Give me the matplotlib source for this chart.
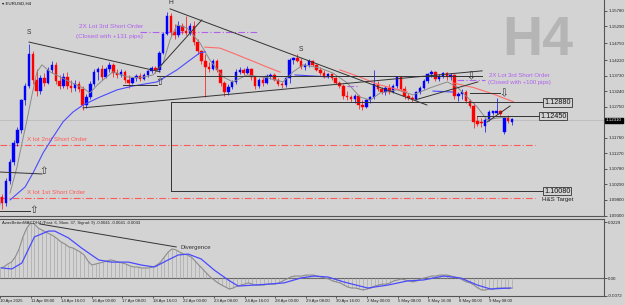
import matplotlib
matplotlib.use('Agg')
import matplotlib.pyplot as plt
import numpy as np

plt.rcParams['font.family'] = ['Liberation Sans', 'DejaVu Sans']

BG = '#d3d3d3'
BULL = '#0000ff'
BEAR = '#ff0000'
LINE = '#333333'
ORDER_RED = '#ff5a5a'
PURPLE = '#b060ee'

# EURUSD H4 candles (bar 0 = 10 Apr 2025 00:00)
opens = [1.0965, 1.0990, 1.0970, 1.1040, 1.1100, 1.1160, 1.1200, 1.1295, 1.1340, 1.1440,
         1.1360, 1.1325, 1.1365, 1.1350, 1.1390, 1.1405, 1.1355, 1.1340, 1.1370, 1.1340,
         1.1335, 1.1345, 1.1330, 1.1280, 1.1305, 1.1345, 1.1385, 1.1395, 1.1370, 1.1395,
         1.1408, 1.1380, 1.1375, 1.1385, 1.1360, 1.1350, 1.1365, 1.1372, 1.1362, 1.1375,
         1.1388, 1.1398, 1.1390, 1.1445, 1.1505, 1.1560, 1.1510, 1.1500, 1.1530, 1.1515,
         1.1508, 1.1530, 1.1480, 1.1450, 1.1420, 1.1400, 1.1395, 1.1418, 1.1390, 1.1350,
         1.1320, 1.1338, 1.1352, 1.1385, 1.1392, 1.1382, 1.1395, 1.1368, 1.1340, 1.1360,
         1.1350, 1.1372, 1.1376, 1.1360, 1.1345, 1.1342, 1.1365, 1.1422, 1.1428, 1.1420,
         1.1400, 1.1408, 1.1418, 1.1405, 1.1392, 1.1382, 1.1370, 1.1378, 1.1365, 1.1350,
         1.1340, 1.1310, 1.1305, 1.1298, 1.1308, 1.1280, 1.1275, 1.1295, 1.1305, 1.1345,
         1.1330, 1.1320, 1.1335, 1.1322, 1.1340, 1.1368, 1.1332, 1.1308, 1.1302, 1.1298,
         1.1320, 1.1335, 1.1355, 1.1378, 1.1385, 1.1362, 1.1372, 1.1380, 1.1368, 1.1375,
         1.1310, 1.1315, 1.1322, 1.1292, 1.1278, 1.1228, 1.1226, 1.1215, 1.1232, 1.1254,
         1.1256, 1.1262, 1.1195, 1.1240, 1.1225]
highs = [1.0995, 1.1000, 1.1050, 1.1110, 1.1170, 1.1210, 1.1300, 1.1350, 1.1473, 1.1450,
         1.1395, 1.1375, 1.1380, 1.1400, 1.1420, 1.1415, 1.1375, 1.1380, 1.1385, 1.1360,
         1.1360, 1.1355, 1.1340, 1.1315, 1.1355, 1.1395, 1.1400, 1.1405, 1.1400, 1.1415,
         1.1412, 1.1395, 1.1395, 1.1390, 1.1375, 1.1370, 1.1378, 1.1380, 1.1380, 1.1392,
         1.1402, 1.1402, 1.1450, 1.1510, 1.1573, 1.1572, 1.1535, 1.1545, 1.1540, 1.1560,
         1.1540, 1.1545, 1.1490, 1.1455, 1.1440, 1.1415, 1.1425, 1.1425, 1.1395, 1.1355,
         1.1345, 1.1360, 1.1395, 1.1400, 1.1398, 1.1402, 1.1398, 1.1372, 1.1365, 1.1368,
         1.1378, 1.1380, 1.1380, 1.1365, 1.1352, 1.1370, 1.1430, 1.1432, 1.1440, 1.1428,
         1.1412, 1.1425, 1.1422, 1.1410, 1.1400, 1.1390, 1.1382, 1.1382, 1.1370, 1.1355,
         1.1345, 1.1325, 1.1312, 1.1315, 1.1312, 1.1295, 1.1300, 1.1310, 1.1390, 1.1355,
         1.1338, 1.1340, 1.1345, 1.1345, 1.1372, 1.1372, 1.1340, 1.1318, 1.1310, 1.1325,
         1.1340, 1.1362, 1.1382, 1.1392, 1.1388, 1.1378, 1.1385, 1.1385, 1.1380, 1.1378,
         1.1320, 1.1330, 1.1328, 1.1298, 1.1285, 1.1245, 1.1240, 1.1240, 1.1265, 1.1262,
         1.1302, 1.1265, 1.1245, 1.1248, 1.1240]
lows = [1.0950, 1.0952, 1.0960, 1.1030, 1.1090, 1.1150, 1.1190, 1.1280, 1.1335, 1.1345,
        1.1310, 1.1315, 1.1340, 1.1345, 1.1380, 1.1345, 1.1330, 1.1335, 1.1330, 1.1320,
        1.1325, 1.1320, 1.1265, 1.1270, 1.1300, 1.1340, 1.1360, 1.1360, 1.1365, 1.1385,
        1.1370, 1.1365, 1.1370, 1.1350, 1.1335, 1.1345, 1.1355, 1.1355, 1.1358, 1.1370,
        1.1380, 1.1380, 1.1385, 1.1440, 1.1500, 1.1500, 1.1490, 1.1495, 1.1505, 1.1500,
        1.1500, 1.1470, 1.1440, 1.1410, 1.1305, 1.1385, 1.1390, 1.1385, 1.1340, 1.1310,
        1.1312, 1.1330, 1.1345, 1.1378, 1.1375, 1.1378, 1.1360, 1.1330, 1.1335, 1.1340,
        1.1345, 1.1362, 1.1355, 1.1340, 1.1335, 1.1338, 1.1350, 1.1410, 1.1415, 1.1395,
        1.1390, 1.1400, 1.1402, 1.1388, 1.1375, 1.1365, 1.1365, 1.1360, 1.1345, 1.1335,
        1.1300, 1.1295, 1.1290, 1.1285, 1.1268, 1.1265, 1.1270, 1.1285, 1.1300, 1.1325,
        1.1315, 1.1312, 1.1315, 1.1318, 1.1335, 1.1325, 1.1300, 1.1295, 1.1290, 1.1295,
        1.1315, 1.1330, 1.1350, 1.1370, 1.1355, 1.1355, 1.1365, 1.1360, 1.1358, 1.1300,
        1.1292, 1.1300, 1.1285, 1.1272, 1.1208, 1.1215, 1.1212, 1.1195, 1.1228, 1.1248,
        1.1250, 1.1245, 1.1188, 1.1222, 1.1218]
closes = [1.0990, 1.0970, 1.1040, 1.1100, 1.1160, 1.1200, 1.1295, 1.1340, 1.1440, 1.1360,
          1.1325, 1.1365, 1.1350, 1.1390, 1.1405, 1.1355, 1.1340, 1.1370, 1.1340, 1.1335,
          1.1345, 1.1330, 1.1280, 1.1305, 1.1345, 1.1385, 1.1395, 1.1370, 1.1395, 1.1408,
          1.1380, 1.1375, 1.1385, 1.1360, 1.1350, 1.1365, 1.1372, 1.1362, 1.1375, 1.1388,
          1.1398, 1.1390, 1.1445, 1.1505, 1.1560, 1.1510, 1.1500, 1.1530, 1.1515, 1.1508,
          1.1530, 1.1480, 1.1450, 1.1420, 1.1400, 1.1395, 1.1418, 1.1390, 1.1350, 1.1320,
          1.1338, 1.1352, 1.1385, 1.1392, 1.1382, 1.1395, 1.1368, 1.1340, 1.1360, 1.1350,
          1.1372, 1.1376, 1.1360, 1.1345, 1.1342, 1.1365, 1.1422, 1.1428, 1.1420, 1.1400,
          1.1408, 1.1418, 1.1405, 1.1392, 1.1382, 1.1370, 1.1378, 1.1365, 1.1350, 1.1340,
          1.1310, 1.1305, 1.1298, 1.1308, 1.1280, 1.1275, 1.1295, 1.1305, 1.1345, 1.1330,
          1.1320, 1.1335, 1.1322, 1.1340, 1.1368, 1.1332, 1.1308, 1.1302, 1.1298, 1.1320,
          1.1335, 1.1355, 1.1378, 1.1385, 1.1362, 1.1372, 1.1380, 1.1368, 1.1375, 1.1310,
          1.1315, 1.1322, 1.1292, 1.1278, 1.1225, 1.1220, 1.1222, 1.1232, 1.1258, 1.1260,
          1.1262, 1.1250, 1.1240, 1.1228, 1.1235]

date_labels = ['10 Apr 2025', '11 Apr 08:00', '14 Apr 16:00', '16 Apr 00:00', '17 Apr 08:00',
               '18 Apr 16:00', '22 Apr 00:00', '23 Apr 08:00', '24 Apr 16:00', '28 Apr 00:00',
               '29 Apr 08:00', '30 Apr 16:00', '2 May 00:00', '5 May 08:00', '6 May 16:00',
               '8 May 00:00', '9 May 08:00']
price_ticks = [1.15780, 1.15290, 1.14750, 1.14220, 1.13730, 1.13240, 1.12750,
               1.11760, 1.11270, 1.10780, 1.10290, 1.09800, 1.09300]
last_price = 1.12310

# moving averages (bar position, price)
gray_ma_bar = [3.05, 4.88, 6.18, 7.49, 8.79, 10.1, 11.4, 13.5, 16.1, 18.7, 22.1, 23.9, 25.8,
               27.3, 29.9, 33.6, 37.0, 40.4, 43.0, 44.8, 46.6, 49.2, 52.6, 55.2, 58.6, 61.2,
               64.9, 70.1, 74.3, 76.9, 79.5, 83.9, 87.3, 91.0, 94.4, 97.0, 99.6, 104.0, 108.2,
               112.6, 117.1, 119.7, 122.3, 124.9, 127.5, 130.1, 133.5]
gray_ma_price = [1.1002, 1.1084, 1.1160, 1.1233, 1.1312, 1.1385, 1.1407, 1.1385, 1.1369,
                 1.1353, 1.1334, 1.1318, 1.1343, 1.1359, 1.1385, 1.1369, 1.1366, 1.1375,
                 1.1413, 1.1486, 1.1533, 1.1524, 1.1476, 1.1422, 1.1369, 1.1353, 1.1375,
                 1.1366, 1.1353, 1.1385, 1.1407, 1.1397, 1.1381, 1.1350, 1.1305, 1.1296,
                 1.1318, 1.1328, 1.1312, 1.1334, 1.1353, 1.1337, 1.1305, 1.1274, 1.1233,
                 1.1239, 1.1242]
blue_ma = [
    [(3.1, 1.0980), (7.0, 1.1021), (9.05, 1.1065), (11.7, 1.1129), (14.3, 1.1179),
     (16.9, 1.1227), (19.5, 1.1258), (22.1, 1.1280), (26.5, 1.1305), (31.0, 1.1328),
     (35.1, 1.1340), (41.4, 1.1353), (46.6, 1.1391), (50.0, 1.1422), (52.6, 1.1445),
     (54.0, 1.1448)],
    [(77.4, 1.1375), (86.0, 1.1369)],
    [(113.4, 1.1324), (118.6, 1.1321)],
]
red_ma = [
    [(53.9, 1.1463), (57.8, 1.1460), (61.2, 1.1444), (65.7, 1.1422), (70.1, 1.1400),
     (73.5, 1.1384)],
    [(89.1, 1.1391), (94.0, 1.1370), (99.0, 1.1345), (106.6, 1.1322)],
    [(118.6, 1.1350), (124.0, 1.1335), (129.0, 1.1315), (134.4, 1.1290)],
]

# trend lines and levels (bar, price) pairs
trend_lines = [
    ((8.0, 1.1479), (42.2, 1.1385)),     # left shoulder down line
    ((41.4, 1.1391), (53.1, 1.1549)),
    ((44.8, 1.1584), (111.8, 1.1280)),   # head down line
    ((22.1, 1.1271), (126.2, 1.1388)),   # neckline
    ((108.7, 1.1296), (125.1, 1.1353)),
    ((127.5, 1.1226), (133.5, 1.1277)),
    ((0.44, 1.1068), (11.4, 1.1062)),
    ((0.44, 1.0945), (8.3, 1.0945)),
    ((32.5, 1.1343), (41.4, 1.1343)),
    ((41.4, 1.1373), (126.2, 1.1373)),
    ((123.1, 1.1318), (130.9, 1.1318)),
    ((124.9, 1.1245), (141.3, 1.1245)),
    ((45.1, 1.1288), (142.1, 1.1288)),
    ((45.1, 1.1008), (142.1, 1.1008)),
    ((45.1, 1.1288), (45.1, 1.1008)),
]
short_orders = [1.1154, 1.0985]
purple_levels = [((37.0, 67.5), 1.1511), ((91.0, 93.6), 1.1340), ((119.7, 127.0), 1.1359)]
up_arrows = [(11.9, 1.1072), (9.1, 1.0948), (42.2, 1.1353)]
down_arrows = [(123.1, 1.1372), (131.9, 1.1318)]
level_boxes = [(142.4, 1.1288, '1.12880'), (141.3, 1.1245, '1.12450'), (142.4, 1.1008, '1.10080')]

# MACD panel
macd = [0.0041, 0.0045, 0.0057, 0.0065, 0.0086, 0.0119, 0.0168, 0.0204, 0.0225, 0.0221,
        0.0204, 0.0196, 0.0188, 0.0180, 0.0172, 0.0160, 0.0147, 0.0139, 0.0127, 0.0123,
        0.0115, 0.0106, 0.0094, 0.0070, 0.0053, 0.0057, 0.0061, 0.0065, 0.0070, 0.0074,
        0.0070, 0.0065, 0.0061, 0.0057, 0.0049, 0.0045, 0.0045, 0.0041, 0.0041, 0.0041,
        0.0045, 0.0053, 0.0065, 0.0086, 0.0106, 0.0119, 0.0115, 0.0106, 0.0098, 0.0094,
        0.0086, 0.0070, 0.0053, 0.0037, 0.0020, 0.0004, -0.0008, -0.0020, -0.0029, -0.0037,
        -0.0045, -0.0041, -0.0033, -0.0029, -0.0025, -0.0020, -0.0025, -0.0029, -0.0029, -0.0029,
        -0.0025, -0.0025, -0.0025, -0.0020, -0.0012, -0.0004, 0.0004, 0.0008, 0.0008, 0.0008,
        0.0012, 0.0012, 0.0012, 0.0008, 0.0004, 0.0000, -0.0004, -0.0012, -0.0016, -0.0020,
        -0.0029, -0.0037, -0.0041, -0.0041, -0.0045, -0.0049, -0.0045, -0.0041, -0.0033, -0.0029,
        -0.0025, -0.0025, -0.0020, -0.0012, -0.0008, -0.0004, -0.0008, -0.0012, -0.0016, -0.0012,
        -0.0004, 0.0000, 0.0004, 0.0008, 0.0008, 0.0012, 0.0012, 0.0012, 0.0008, 0.0004,
        0.0000, -0.0008, -0.0016, -0.0020, -0.0029, -0.0041, -0.0049, -0.0049, -0.0045, -0.0045,
        -0.0041, -0.0041, -0.0041, -0.0043, -0.0041]
signal_bar = [0.44, 3.1, 5.7, 9.0, 12.7, 14.3, 17.9, 21.3, 25.8, 29.1, 33.6, 37.0, 40.4, 44.0,
              46.6, 49.2, 52.6, 56.0, 59.7, 62.3, 66.4, 70.1, 74.3, 78.7, 82.1, 85.8, 89.9,
              96.2, 101.4, 106.6, 110.8, 116.0, 120.5, 124.9, 128.3, 133.5]
signal_val = [0.0041, 0.0037, 0.0061, 0.0168, 0.0192, 0.0192, 0.0164, 0.0123, 0.0074, 0.0065,
              0.0065, 0.0053, 0.0045, 0.0074, 0.0094, 0.0098, 0.0078, 0.0033, -0.0008, -0.0033,
              -0.0029, -0.0025, -0.0020, 0.0000, 0.0008, 0.0004, -0.0016, -0.0041, -0.0029,
              -0.0012, -0.0008, 0.0008, 0.0000, -0.0029, -0.0045, -0.0041]
divergence = ((10.4, 0.0221), (46.1, 0.0127))

fig = plt.figure(figsize=(6.25, 3.05), dpi=100, facecolor=BG)
ax = fig.add_axes([0, 89 / 305, 604 / 625, 216 / 305], facecolor=BG)
ax2 = fig.add_axes([0, 9 / 305, 604 / 625, 77 / 305], facecolor=BG)

x = np.arange(len(closes))
o = np.array(opens)
c = np.array(closes)
colors = [BULL if cc >= oo else BEAR for oo, cc in zip(o, c)]
bottoms = np.minimum(o, c)
heights = np.maximum(np.abs(c - o), 0.00012)

ax.axhline(last_price, color='#bcbcbc', lw=0.6, zorder=1)
ax.text(140.8, 1.1482, 'H4', fontsize=40, fontweight='bold', color='#b5b5b5',
        ha='center', va='center', zorder=0)

ax.vlines(x, lows, highs, colors=colors, lw=0.6, alpha=0.8, zorder=3)
ax.bar(x, heights, 0.62, bottom=bottoms, color=colors, edgecolor=colors, lw=0.3, zorder=4)

ax.plot(gray_ma_bar, gray_ma_price, color='#8a8a8a', lw=0.7, zorder=5)
for seg in blue_ma:
    bx, by = zip(*seg)
    ax.plot(bx, by, color='#4a4aff', lw=0.8, zorder=5)
for seg in red_ma:
    rx, ry = zip(*seg)
    ax.plot(rx, ry, color='#ff6a6a', lw=0.8, zorder=5)

for (x0, y0), (x1, y1) in trend_lines:
    ax.plot([x0, x1], [y0, y1], color=LINE, lw=0.7, zorder=6)

for lvl in short_orders:
    ax.plot([0.44, 140.0], [lvl, lvl], color=ORDER_RED, lw=0.8, ls=(0, (6, 2, 1, 2)), zorder=2)
for (xa, xb), lvl in purple_levels:
    ax.plot([xa, xb], [lvl, lvl], color=PURPLE, lw=0.8, ls=(0, (6, 2, 1, 2)), zorder=2)

ax.text(7.5, 1.1170, 'X lot 2nd Short Order', color=ORDER_RED, fontsize=4.6, va='center')
ax.text(7.5, 1.1002, 'X lot 1st Short Order', color=ORDER_RED, fontsize=4.6, va='center')
ax.text(29.4, 1.1527, '2X Lot 3rd Short Order', color=PURPLE, fontsize=4.6, ha='center', va='center')
ax.text(29.0, 1.1498, '(Closed with +131 pips)', color=PURPLE, fontsize=4.6, ha='center', va='center')
ax.text(136.0, 1.1372, '2X Lot 3rd Short Order', color=PURPLE, fontsize=4.3, ha='center', va='center')
ax.text(136.0, 1.1350, '(Closed with +100 pips)', color=PURPLE, fontsize=4.3, ha='center', va='center')
ax.text(141.8, 1.0980, 'H&S Target', color='#222222', fontsize=4.4, va='center')

for lx, lp, txt in level_boxes:
    ax.text(lx, lp, txt, fontsize=5.2, color='#111111', ha='left', va='center', zorder=7,
            bbox=dict(boxstyle='square,pad=0.12', fc=BG, ec='#333333', lw=0.6))

for lx, lp, txt in [(8.0, 1.1508, 'S'), (45.1, 1.1603, 'H'), (79.0, 1.1457, 'S')]:
    ax.text(lx, lp, txt, fontsize=4.8, color='#333333', ha='center', va='center')
for ux, uy in up_arrows:
    ax.text(ux, uy, '\u21e7', family='DejaVu Sans', fontsize=7.5, color='#333333',
            ha='center', va='center', zorder=7)
for dx, dy in down_arrows:
    ax.text(dx, dy, '\u21e9', family='DejaVu Sans', fontsize=7.5, color='#333333',
            ha='center', va='center', zorder=7)

ax.text(0.003, 0.993, '\u25be EURUSD,H4', transform=ax.transAxes, fontsize=3.2,
        color='#111111', va='top', ha='left')

ax.set_xlim(0.44, 158.0)
ax.set_ylim(1.0929, 1.1612)
ax.set_xticks([])
ax.yaxis.tick_right()
ax.set_yticks(price_ticks)
ax.set_yticklabels([f'{p:.5f}' for p in price_ticks])
ax.tick_params(axis='y', labelsize=3.2, length=2, width=0.5, pad=1, colors='#222222')
for side in ['left', 'top']:
    ax.spines[side].set_visible(False)
for side in ['right', 'bottom']:
    ax.spines[side].set_color('#555555')
    ax.spines[side].set_linewidth(0.8)
ax.annotate(f'{last_price:.5f}', xy=(1.0, last_price), xycoords=('axes fraction', 'data'),
            xytext=(1.5, 0), textcoords='offset points', fontsize=3.2, color='white',
            ha='left', va='center', annotation_clip=False,
            bbox=dict(boxstyle='square,pad=0.15', fc='black', ec='black'))

# MACD panel
ax2.axhline(0, color='#666666', lw=0.8)
ax2.vlines(x, 0, macd, colors='#a8a8a8', lw=0.5)
ax2.plot(x, macd, color='#8c8c8c', lw=0.8)
ax2.plot(signal_bar, signal_val, color='#4a4aff', lw=0.9)
(d0x, d0y), (d1x, d1y) = divergence
ax2.plot([d0x, d1x], [d0y, d1y], color=LINE, lw=0.7)
ax2.text(47.1, 0.0123, 'Divergence', fontsize=4.3, color='#333333', va='center')
ax2.text(0.004, 0.975, 'AzasBetterMACDH4 (Fast: 6, Slow: 37, Signal: 9) -0.0041 -0.0041 -0.0043',
         transform=ax2.transAxes, fontsize=3.1, color='#222222', va='top', ha='left')

ax2.set_xlim(0.44, 158.0)
ax2.set_ylim(-0.00736, 0.02413)
ax2.yaxis.tick_right()
ax2.set_yticks([0.0229, 0.0, -0.0072])
ax2.set_yticklabels(['0.0229', '0.00', '-0.0072'])
ax2.set_xticks(np.arange(0, 8 * len(date_labels), 8))
ax2.set_xticklabels(date_labels, ha='left')
ax2.tick_params(axis='y', labelsize=3.2, length=2, width=0.5, pad=1, colors='#222222')
ax2.tick_params(axis='x', labelsize=3.1, length=1.5, width=0.5, pad=1, colors='#222222')
ax2.spines['left'].set_visible(False)
for side in ['right', 'bottom', 'top']:
    ax2.spines[side].set_color('#555555')
    ax2.spines[side].set_linewidth(0.8)

fig.savefig('out.png', dpi=100, facecolor=BG)
